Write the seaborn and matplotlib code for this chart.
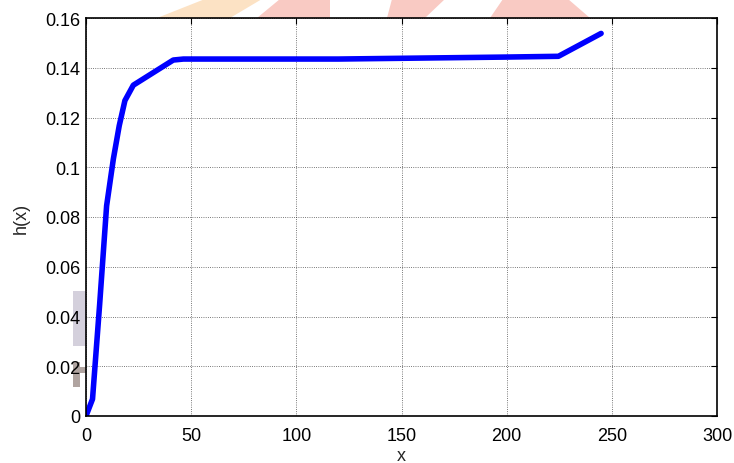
import numpy as np
import pandas as pd
import seaborn as sns
import matplotlib
matplotlib.use("Agg")
from matplotlib import pyplot as plt
from matplotlib.patches import Polygon

x_vals = [0, 3.1, 6.5, 9.8, 13.0, 15.8, 18.5, 22.5, 41.5, 46.3, 80, 120, 150, 200, 224.6, 244.9]
h_vals = [0, 0.0068, 0.045, 0.0845, 0.1033, 0.1167, 0.1268, 0.133, 0.1431, 0.1435, 0.1435,
          0.1435, 0.1438, 0.1443, 0.1446, 0.1538]
x_ticks = [0, 50, 100, 150, 200, 250, 300]
y_ticks = [0, 0.02, 0.04, 0.06, 0.08, 0.1, 0.12, 0.14, 0.16]
y_tick_labels = ["0", "0.02", "0.04", "0.06", "0.08", "0.1", "0.12", "0.14", "0.16"]

df = pd.DataFrame({"x": x_vals, "h": h_vals})

sns.set_style("white")
plt.rcParams["font.family"] = ["Liberation Sans", "DejaVu Sans"]
plt.rcParams["font.size"] = 13

W, H = 734, 464
fig = plt.figure(figsize=(W / 100, H / 100), dpi=100)

# faint watermark shapes behind everything (pixel coords -> figure coords)
def wm(pts, color):
    xy = [(px / W, 1 - py / H) for px, py in pts]
    fig.patches.append(Polygon(xy, closed=True, transform=fig.transFigure,
                               facecolor=color, edgecolor="none", zorder=-5))

wm([(157, 19), (230, 19), (262, 0), (205, 0)], "#fce2c4")
wm([(257, 19), (330, 19), (330, 0), (280, 0)], "#f9cac3")
wm([(387, 19), (425, 19), (445, 0), (392, 0)], "#f9cac3")
wm([(490, 19), (590, 19), (568, 0), (503, 0)], "#f9cac3")
wm([(73, 292), (86, 292), (86, 347), (73, 347)], "#d4d0dc")
wm([(73, 363), (80, 363), (80, 388), (73, 388)], "#b0a4a0")
wm([(73, 368), (86, 368), (86, 374), (73, 374)], "#b0a4a0")

ax = fig.add_axes([86 / W, 1 - 417 / H, (717 - 86) / W, (417 - 19) / H])

sns.lineplot(data=df, x="x", y="h", ax=ax, color="#0000ff", linewidth=4, sort=False)

ax.set_xlim(0, 300)
ax.set_ylim(0, 0.16)
ax.set_xticks(x_ticks)
ax.set_yticks(y_ticks)
ax.set_yticklabels(y_tick_labels)
ax.set_xlabel("x", labelpad=2)
ax.set_ylabel("h(x)", labelpad=11)
ax.grid(True, color="black", linestyle=":", linewidth=0.6, alpha=0.7)
ax.tick_params(axis="x", pad=8)
ax.tick_params(axis="y", pad=4)
ax.tick_params(direction="in", length=4, top=True, right=True, colors="black", labelsize=13)
for s in ax.spines.values():
    s.set_color("black")
    s.set_linewidth(1.2)

fig.savefig("out.png", dpi=100)
